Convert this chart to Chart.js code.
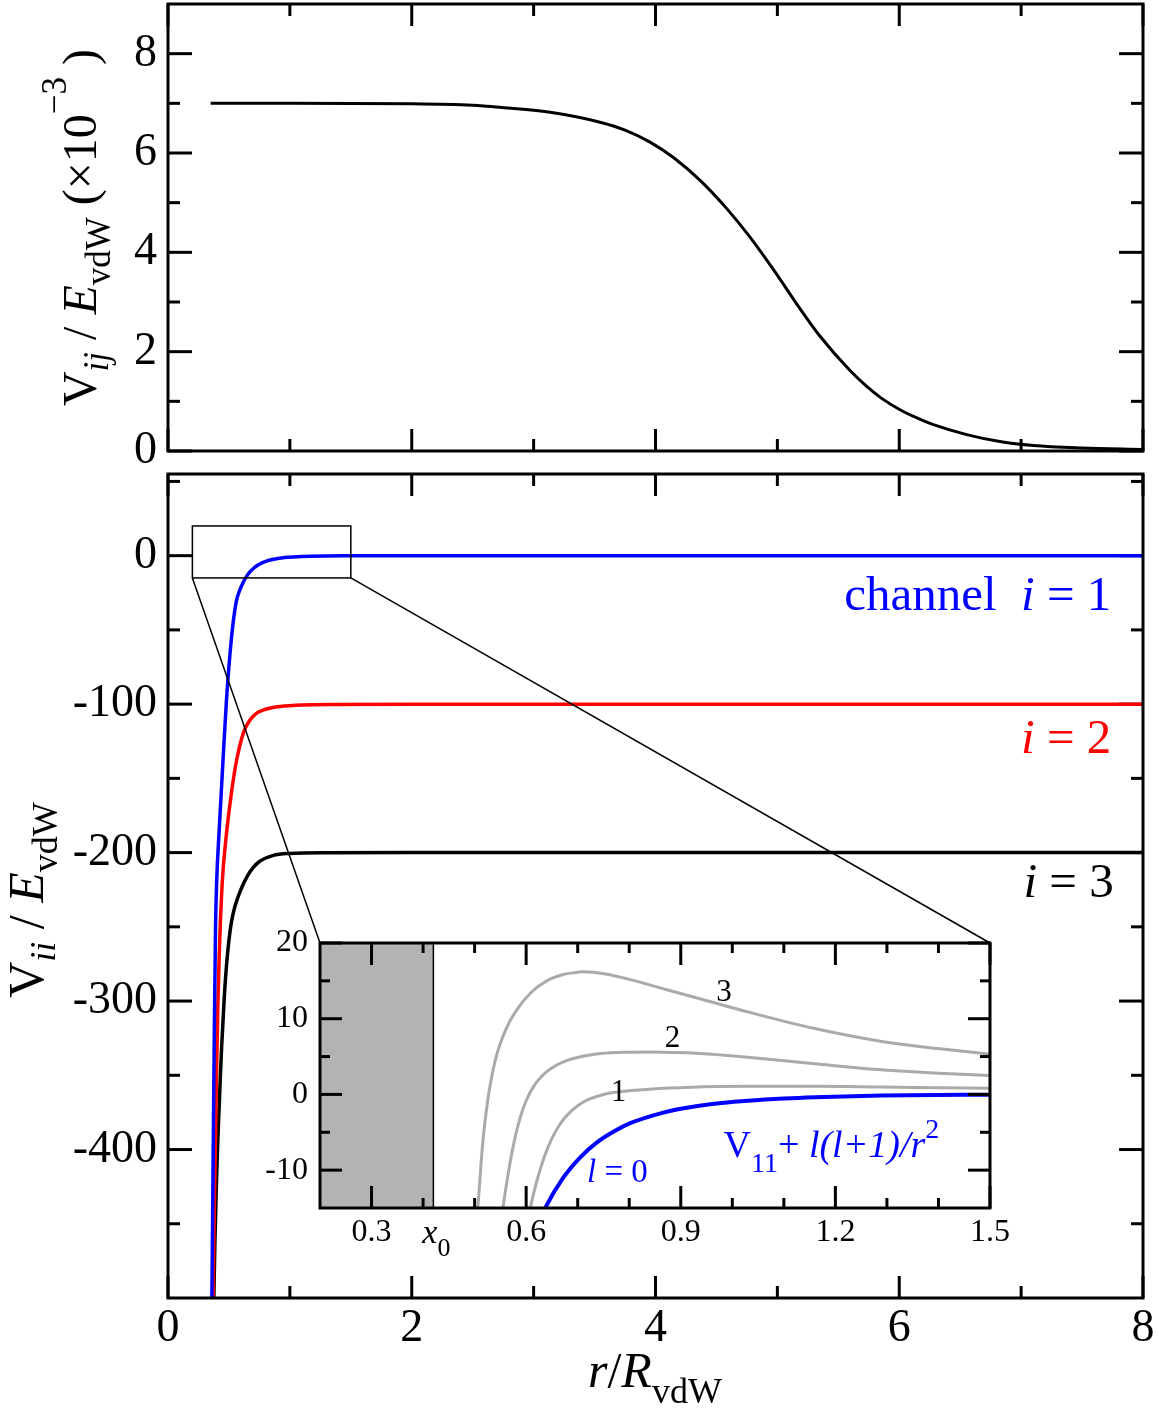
<!DOCTYPE html>
<html>
<head>
<meta charset="utf-8">
<script src="https://cdn.jsdelivr.net/npm/chart.js@4.4.1/dist/chart.umd.min.js"></script>
<style>
  body { margin: 0; background: #fff; }
  #page { position: relative; width: 1159px; height: 1411px; overflow: hidden; }
  canvas { position: absolute; }
</style>
</head>
<body>
<div id="page">
  <canvas id="bottomChart" width="1159" height="951" style="left:0;top:460px"></canvas>
  <canvas id="topChart" width="1159" height="474" style="left:0;top:0"></canvas>
  <canvas id="insetChart" width="800" height="350" style="left:240px;top:925px"></canvas>
</div>
<script>
// ---- data ----
// top panel: coupling V_ij / E_vdW (x1e-3) vs r/R_vdW
const rCoupling = [0.35, 1.0, 2.0, 2.5, 2.72, 3.135, 3.545, 3.75, 3.955, 4.147, 4.366, 4.585, 4.777, 4.968, 5.187, 5.35, 5.596, 5.733, 5.85, 6.006, 6.15, 6.28, 6.553, 6.826, 7.1, 7.5, 8.0];
const vCoupling = [7.0, 7.0, 6.99, 6.96, 6.92, 6.82, 6.62, 6.46, 6.22, 5.91, 5.45, 4.88, 4.30, 3.65, 2.86, 2.31, 1.62, 1.30, 1.07, 0.83, 0.66, 0.53, 0.33, 0.19, 0.11, 0.06, 0.03];

// bottom panel: diagonal potentials V_ii
const rCh1 = [0.355, 0.36, 0.37, 0.38, 0.39, 0.40, 0.42, 0.45, 0.48, 0.52, 0.56, 0.59, 0.615, 0.637, 0.672, 0.705, 0.738, 0.77, 0.802, 0.866, 0.9, 0.957, 1.03, 1.1, 1.16, 1.29, 1.45, 2, 8];
const vCh1 = [-540, -500, -410, -320, -250, -218, -185, -140, -97, -56, -31, -23, -18.3, -15, -11, -8.3, -6.3, -4.9, -3.8, -2.4, -1.9, -1.3, -0.85, -0.55, -0.38, -0.15, -0.03, 0, 0];
const rCh2 = [0.365, 0.37, 0.38, 0.39, 0.40, 0.41, 0.42, 0.43, 0.44, 0.45, 0.48, 0.52, 0.56, 0.62, 0.67, 0.72, 0.78, 0.85, 0.92, 1.1, 1.4, 2, 8];
const vCh2 = [-540, -500, -440, -390, -340, -300, -270, -246, -228, -214, -187, -160, -139, -119, -111, -106.5, -104, -102.5, -101.6, -100.6, -100.2, -100, -100];
const rCh3 = [0.372, 0.377, 0.385, 0.395, 0.405, 0.413, 0.43, 0.44, 0.46, 0.48, 0.50, 0.52, 0.55, 0.60, 0.65, 0.70, 0.75, 0.86, 1.0, 1.3, 2, 8];
const vCh3 = [-520, -496, -462, -430, -403, -385, -350, -331, -300, -276, -259, -247, -236, -224.5, -216, -210, -206, -202, -200.6, -200.1, -200, -200];

// inset: V11 + l(l+1)/r^2 for l = 1, 2, 3 (l = 0 is channel 1 itself)
const rL1 = [0.60, 0.608, 0.62, 0.635, 0.65, 0.665, 0.68, 0.70, 0.72, 0.75, 0.78, 0.84, 0.92, 1.03, 1.16, 1.29, 1.5];
const vL1 = [-18, -15, -11.6, -8.3, -5.8, -4.0, -2.7, -1.5, -0.7, 0.0, 0.35, 0.7, 0.95, 1.07, 1.08, 0.98, 0.82];
const rL2 = [0.548, 0.555, 0.565, 0.575, 0.585, 0.595, 0.605, 0.615, 0.625, 0.64, 0.66, 0.68, 0.71, 0.744, 0.79, 0.84, 0.938, 1.03, 1.16, 1.29, 1.4, 1.5];
const vL2 = [-19, -15, -10.5, -6.8, -3.9, -1.7, -0.1, 1.1, 2.0, 3.0, 3.9, 4.5, 5.05, 5.4, 5.57, 5.6, 5.4, 4.9, 4.05, 3.25, 2.8, 2.5];
const rL3 = [0.50, 0.506, 0.515, 0.525, 0.54, 0.56, 0.58, 0.61, 0.64, 0.67, 0.69, 0.71, 0.73, 0.76, 0.80, 0.88, 0.96, 1.03, 1.16, 1.29, 1.5];
const vL3 = [-18, -15, -7, -1, 4.5, 8.5, 11, 13.5, 15, 15.8, 16.05, 16.2, 16.15, 15.85, 15.2, 13.7, 12.2, 10.9, 8.7, 7.0, 5.3];
const x0 = 0.42; // hard-core radius, shaded region in inset

// ticks
const xMajor = [0, 2, 4, 6, 8];
const xMinor = [1, 3, 5, 7];
const topYMajor = [0, 2, 4, 6, 8];
const topYMinor = [1, 3, 5, 7];
const botYMajor = [0, -100, -200, -300, -400];
const botYMinor = [50, -50, -150, -250, -350, -450];
const insetXMajor = [0.3, 0.6, 0.9, 1.2, 1.5];
const insetXMinor = [0.4, 0.5, 0.7, 0.8, 1.0, 1.1, 1.3, 1.4];
const insetYMajor = [-10, 0, 10, 20];
const insetYMinor = [-5, 5, 15];

// zoom window shown in inset
const zoomX = [0.2, 1.5];
const zoomY = [-15, 20];

const SERIF = "'Liberation Serif', 'Times New Roman', serif";
const BLUE = '#0000ff', RED = '#ff0000', GRAY = '#aaaaaa';

function pts(xs, ys) {
  return xs.map((x, i) => ({ x: x, y: ys[i] }));
}

function fontOf(p) {
  return (p.it ? 'italic ' : '') + p.s + 'px ' + SERIF;
}

// draws a run of text pieces with own size / italic / baseline shift
function drawRich(ctx, parts, x, y, align, color) {
  ctx.save();
  ctx.fillStyle = color || '#000';
  ctx.textBaseline = 'alphabetic';
  ctx.textAlign = 'left';
  let w = 0;
  parts.forEach(p => { ctx.font = fontOf(p); w += ctx.measureText(p.t).width; });
  let cx = align === 'center' ? x - w / 2 : align === 'right' ? x - w : x;
  parts.forEach(p => {
    ctx.font = fontOf(p);
    ctx.fillText(p.t, cx, y + (p.dy || 0));
    cx += ctx.measureText(p.t).width;
  });
  ctx.restore();
}

function drawTicks(chart, o) {
  const { ctx, chartArea: a } = chart;
  const sx = chart.scales.x, sy = chart.scales.y;
  ctx.save();
  ctx.strokeStyle = '#000';
  ctx.lineWidth = o.width;
  const seg = (x1, y1, x2, y2) => { ctx.beginPath(); ctx.moveTo(x1, y1); ctx.lineTo(x2, y2); ctx.stroke(); };
  const xs = (vals, len) => vals.forEach(v => {
    const p = sx.getPixelForValue(v);
    seg(p, a.bottom, p, a.bottom - len);
    seg(p, a.top, p, a.top + len);
  });
  const ys = (vals, len) => vals.forEach(v => {
    const p = sy.getPixelForValue(v);
    seg(a.left, p, a.left + len, p);
    seg(a.right, p, a.right - len, p);
  });
  xs(o.xMajor, o.xLen); xs(o.xMinor, o.minor);
  ys(o.yMajor, o.yLen); ys(o.yMinor, o.minor);
  ctx.restore();
}

// ticks point inwards, on all four sides
const inwardTicks = {
  id: 'inwardTicks',
  beforeDatasetsDraw(chart, args, o) {
    if (!o.onTop) drawTicks(chart, o);
  },
  afterDatasetsDraw(chart, args, o) {
    if (o.onTop) drawTicks(chart, o);
    const { ctx, chartArea: a } = chart;
    ctx.save();
    ctx.strokeStyle = '#000';
    ctx.lineWidth = o.frame;
    ctx.strokeRect(a.left, a.top, a.right - a.left, a.bottom - a.top);
    ctx.restore();
  }
};

function lineSet(data, color, width) {
  return {
    data: data, borderColor: color, borderWidth: width, pointRadius: 0,
    fill: false, cubicInterpolationMode: 'monotone', clip: 0
  };
}

function tickFont(size) {
  return { family: SERIF, size: size };
}

function fixedTicks(vals) {
  return scale => { scale.ticks = vals.map(v => ({ value: v })); };
}

const noGrid = { display: false, drawTicks: false };

function build() {
  // ---- inset (created first so the connectors can find it) ----
  const insetCanvas = document.getElementById('insetChart');
  const insetDecor = {
    id: 'insetDecor',
    beforeDatasetsDraw(chart) {
      const { ctx, chartArea: a } = chart;
      const sx = chart.scales.x;
      ctx.save();
      ctx.fillStyle = '#fff';
      ctx.fillRect(a.left, a.top, a.right - a.left, a.bottom - a.top);
      const px0 = sx.getPixelForValue(x0);
      ctx.fillStyle = '#b3b3b3';
      ctx.fillRect(a.left, a.top, px0 - a.left, a.bottom - a.top);
      ctx.strokeStyle = '#000';
      ctx.lineWidth = 1.5;
      ctx.beginPath(); ctx.moveTo(px0, a.top); ctx.lineTo(px0, a.bottom); ctx.stroke();
      ctx.restore();
    },
    afterDraw(chart) {
      const { ctx, chartArea: a } = chart;
      const sx = chart.scales.x, sy = chart.scales.y;
      const X = v => sx.getPixelForValue(v), Y = v => sy.getPixelForValue(v);
      // x0 tick label
      drawRich(ctx, [{ t: 'x', s: 34, it: true }, { t: '0', s: 26, dy: 13 }], X(x0) + 3, a.bottom + 35, 'center');
      // curve labels
      drawRich(ctx, [{ t: '3', s: 31 }], X(0.984), Y(12.4), 'center');
      drawRich(ctx, [{ t: '2', s: 31 }], X(0.884), Y(6.3), 'center');
      drawRich(ctx, [{ t: '1', s: 31 }], X(0.779), Y(-0.9), 'center');
      drawRich(ctx, [{ t: 'l', s: 33, it: true }, { t: ' = 0', s: 33 }], X(0.718), Y(-11.6), 'left', BLUE);
      drawRich(ctx, [
        { t: 'V', s: 38 }, { t: '11', s: 28, dy: 15 }, { t: '+ ', s: 38 },
        { t: 'l(l+1)/r', s: 38, it: true }, { t: '2', s: 28, dy: -19 }
      ], X(0.983), Y(-8.3), 'left', BLUE);
    }
  };

  const insetChart = new Chart(insetCanvas, {
    type: 'line',
    data: {
      datasets: [
        Object.assign(lineSet(pts(rCh1, vCh1), BLUE, 4), { order: 0 }),
        Object.assign(lineSet(pts(rL1, vL1), GRAY, 3), { order: 1 }),
        Object.assign(lineSet(pts(rL2, vL2), GRAY, 3), { order: 2 }),
        Object.assign(lineSet(pts(rL3, vL3), GRAY, 3), { order: 3 })
      ]
    },
    options: {
      responsive: false, animation: false, devicePixelRatio: 1,
      layout: { padding: { top: 18, right: 50, left: 0, bottom: 0 } },
      plugins: {
        legend: { display: false }, tooltip: { enabled: false },
        inwardTicks: { xMajor: insetXMajor, xMinor: insetXMinor, yMajor: insetYMajor, yMinor: insetYMinor, xLen: 22, yLen: 22, minor: 10, width: 3, frame: 3, onTop: true }
      },
      scales: {
        x: {
          type: 'linear', min: zoomX[0], max: zoomX[1],
          grid: noGrid, border: { display: false },
          afterBuildTicks: fixedTicks(insetXMajor),
          afterFit: s => { s.height = 67; s.paddingLeft = 0; s.paddingRight = 0; },
          ticks: { font: tickFont(32), color: '#000', padding: 5, autoSkip: false, maxRotation: 0,
            callback: v => String(v) }
        },
        y: {
          type: 'linear', min: zoomY[0], max: zoomY[1],
          grid: noGrid, border: { display: false },
          afterBuildTicks: fixedTicks(insetYMajor),
          afterFit: s => { s.width = 80; s.paddingTop = 0; s.paddingBottom = 0; },
          ticks: { font: tickFont(32), color: '#000', padding: 12, autoSkip: false,
            callback: v => String(v) }
        }
      }
    },
    plugins: [insetDecor, inwardTicks]
  });

  // ---- top panel ----
  const topDecor = {
    id: 'topDecor',
    afterDraw(chart) {
      const { ctx, chartArea: a } = chart;
      ctx.save();
      ctx.translate(96, (a.top + a.bottom) / 2);
      ctx.rotate(-Math.PI / 2);
      drawRich(ctx, [
        { t: 'V', s: 48 }, { t: 'ij', s: 35, it: true, dy: 12 }, { t: ' / ', s: 48 },
        { t: 'E', s: 48, it: true }, { t: 'vdW', s: 35, dy: 14 }, { t: ' (×10', s: 48 },
        { t: '−3', s: 35, dy: -30 }, { t: ' )', s: 48 }
      ], 0, 0, 'center');
      ctx.restore();
    }
  };

  new Chart(document.getElementById('topChart'), {
    type: 'line',
    data: { datasets: [lineSet(pts(rCoupling, vCoupling), '#000', 3)] },
    options: {
      responsive: false, animation: false, devicePixelRatio: 1,
      layout: { padding: { top: 4, right: 16, left: 0, bottom: 0 } },
      plugins: {
        legend: { display: false }, tooltip: { enabled: false },
        inwardTicks: { xMajor: xMajor, xMinor: xMinor, yMajor: topYMajor, yMinor: topYMinor, xLen: 22, yLen: 24, minor: 12, width: 3, frame: 3, onTop: false }
      },
      scales: {
        x: {
          type: 'linear', min: 0, max: 8,
          grid: noGrid, border: { display: false },
          afterFit: s => { s.height = 23; s.paddingLeft = 0; s.paddingRight = 0; },
          ticks: { display: false }
        },
        y: {
          type: 'linear', min: 0, max: 9,
          grid: noGrid, border: { display: false },
          afterBuildTicks: fixedTicks(topYMajor),
          afterFit: s => { s.width = 168; s.paddingTop = 0; s.paddingBottom = 0; },
          ticks: { font: tickFont(46), color: '#000', padding: 11, autoSkip: false }
        }
      }
    },
    plugins: [topDecor, inwardTicks]
  });

  // ---- bottom panel ----
  const bottomDecor = {
    id: 'bottomDecor',
    afterDatasetsDraw(chart) {
      const { ctx } = chart;
      const sx = chart.scales.x, sy = chart.scales.y;
      const X = v => sx.getPixelForValue(v), Y = v => sy.getPixelForValue(v);
      ctx.save();
      ctx.strokeStyle = '#000';
      ctx.lineWidth = 1.5;
      const bx0 = X(zoomX[0]), bx1 = X(zoomX[1]), by0 = Y(zoomY[0]), by1 = Y(zoomY[1]);
      ctx.strokeRect(bx0, by1, bx1 - bx0, by0 - by1);
      const ia = insetChart.chartArea;
      const offX = insetCanvas.offsetLeft - chart.canvas.offsetLeft;
      const offY = insetCanvas.offsetTop - chart.canvas.offsetTop;
      ctx.beginPath();
      ctx.moveTo(bx0, by0); ctx.lineTo(ia.left + offX, ia.top + offY);
      ctx.moveTo(bx1, by0); ctx.lineTo(ia.right + offX, ia.top + offY);
      ctx.stroke();
      ctx.restore();

      drawRich(ctx, [{ t: 'channel  ', s: 49 }, { t: 'i', s: 49, it: true }, { t: ' = 1', s: 49 }], X(7.74), Y(-36.5), 'right', BLUE);
      drawRich(ctx, [{ t: 'i', s: 49, it: true }, { t: ' = 2', s: 49 }], X(7.74), Y(-132.6), 'right', RED);
      drawRich(ctx, [{ t: 'i', s: 49, it: true }, { t: ' = 3', s: 49 }], X(7.76), Y(-230), 'right', '#000');
    },
    afterDraw(chart) {
      const { ctx, chartArea: a } = chart;
      ctx.save();
      ctx.translate(43, (a.top + a.bottom) / 2 + 14);
      ctx.rotate(-Math.PI / 2);
      drawRich(ctx, [
        { t: 'V', s: 50 }, { t: 'ii', s: 36, it: true, dy: 12 }, { t: ' / ', s: 50 },
        { t: 'E', s: 50, it: true }, { t: 'vdW', s: 36, dy: 14 }
      ], 0, 0, 'center');
      ctx.restore();
      drawRich(ctx, [
        { t: 'r', s: 50, it: true }, { t: '/', s: 50 }, { t: 'R', s: 50, it: true }, { t: 'vdW', s: 36, dy: 16 }
      ], 588, 927, 'left');
    }
  };

  new Chart(document.getElementById('bottomChart'), {
    type: 'line',
    data: {
      datasets: [
        lineSet(pts(rCh1, vCh1), BLUE, 3.5),
        lineSet(pts(rCh2, vCh2), RED, 3.5),
        lineSet(pts(rCh3, vCh3), '#000', 3.5)
      ]
    },
    options: {
      responsive: false, animation: false, devicePixelRatio: 1,
      layout: { padding: { top: 14, right: 16, left: 0, bottom: 0 } },
      plugins: {
        legend: { display: false }, tooltip: { enabled: false },
        inwardTicks: { xMajor: xMajor, xMinor: xMinor, yMajor: botYMajor, yMinor: botYMinor, xLen: 22, yLen: 24, minor: 12, width: 3, frame: 3, onTop: false }
      },
      scales: {
        x: {
          type: 'linear', min: 0, max: 8,
          grid: noGrid, border: { display: false },
          afterBuildTicks: fixedTicks(xMajor),
          afterFit: s => { s.height = 113; s.paddingLeft = 0; s.paddingRight = 0; },
          ticks: { font: tickFont(46), color: '#000', padding: 3, autoSkip: false, maxRotation: 0 }
        },
        y: {
          type: 'linear', min: -500, max: 55,
          grid: noGrid, border: { display: false },
          afterBuildTicks: fixedTicks(botYMajor),
          afterFit: s => { s.width = 168; s.paddingTop = 0; s.paddingBottom = 0; },
          ticks: { font: tickFont(46), color: '#000', padding: 11, autoSkip: false }
        }
      }
    },
    plugins: [bottomDecor, inwardTicks]
  });
}

Promise.all([
  document.fonts.load("46px 'Liberation Serif'"),
  document.fonts.load("italic 46px 'Liberation Serif'")
]).catch(() => {}).then(build);
</script>
</body>
</html>
